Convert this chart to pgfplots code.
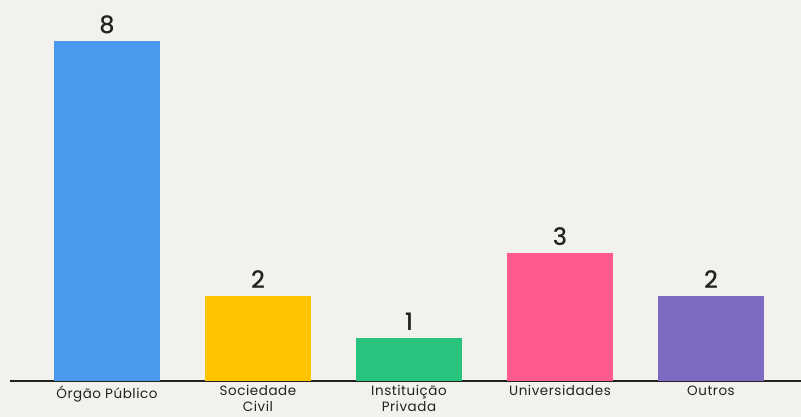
\documentclass[border=0pt]{standalone}
\usepackage{fontspec}
\setmainfont{Poppins}
\newfontfamily\numfont{Poppins}[UprightFont=* Medium]
\usepackage{pgfplots}
\pgfplotsset{compat=1.18}
\definecolor{bg}{HTML}{F3F1EC}
\definecolor{txt}{HTML}{222222}
\definecolor{cblue}{HTML}{4B98EF}
\definecolor{cyellow}{HTML}{FFC300}
\definecolor{cgreen}{HTML}{28C47D}
\definecolor{cpink}{HTML}{FF5A8B}
\definecolor{cpurple}{HTML}{7D6AC3}
\begin{document}
\begin{tikzpicture}[x=1pt,y=1pt]
\fill[bg] (0,0) rectangle (801,417);
\begin{axis}[
  at={(10pt,36pt)}, anchor=south west,
  scale only axis, width=791pt, height=381pt,
  xmin=-0.642, xmax=4.596, ymin=0, ymax=8.965,
  axis x line=bottom, axis y line=none,
  axis line style={-, line width=2.5pt, color=txt},
  xtick={0,1,2,3,4},
  xticklabels={{Órgão Público},{Sociedade\\Civil},{Instituição\\Privada},{Universidades},{Outros}},
  x tick label style={font=\fontsize{13.5}{15.5}\selectfont\addfontfeature{LetterSpace=4}, text=txt, align=center, yshift=-1pt},
  major tick length=0pt, ytick=\empty,
  /pgf/number format/assume math mode=true,
  ybar, bar width=106pt, /pgf/bar shift=0pt,
  nodes near coords,
  every node near coord/.append style={font=\fontsize{24}{24}\selectfont\numfont, text=txt, yshift=4pt},
  clip=false,
]
\addplot[fill=cblue, draw=none] coordinates {(0,8)};
\addplot[fill=cyellow, draw=none] coordinates {(1,2)};
\addplot[fill=cgreen, draw=none] coordinates {(2,1)};
\addplot[fill=cpink, draw=none] coordinates {(3,3)};
\addplot[fill=cpurple, draw=none] coordinates {(4,2)};
\end{axis}
\pgfresetboundingbox
\useasboundingbox (0,0) rectangle (801,417);
\end{tikzpicture}
\end{document}
